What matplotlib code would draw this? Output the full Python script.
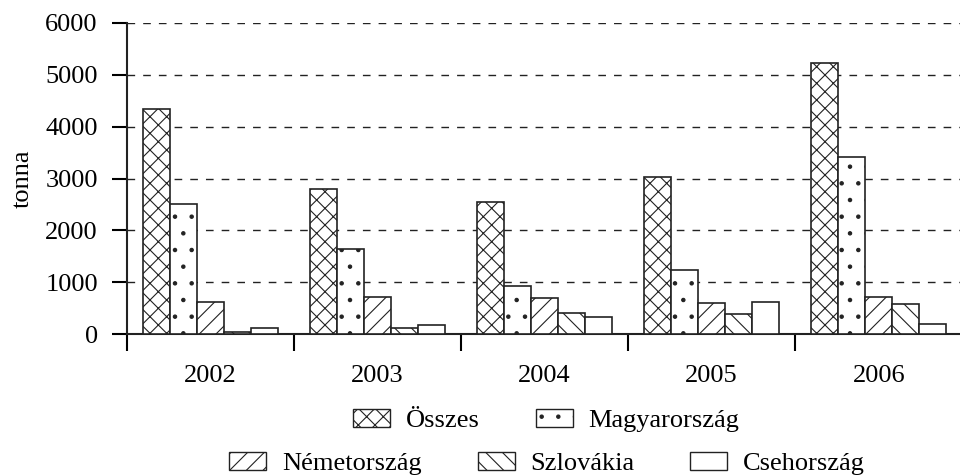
import matplotlib
matplotlib.use("Agg")
import matplotlib.pyplot as plt
import numpy as np
from matplotlib.patches import Patch

years = ["2002", "2003", "2004", "2005", "2006"]
osszes = [4330, 2790, 2555, 3035, 5220]
magyar = [2510, 1645, 930, 1240, 3420]
nemet = [625, 715, 690, 600, 715]
szlovak = [40, 115, 405, 385, 590]
cseh = [115, 170, 330, 630, 205]

series = [
    ("Összes", osszes, "xx"),
    ("Magyarország", magyar, "."),
    ("Németország", nemet, "//"),
    ("Szlovákia", szlovak, "\\\\"),
    ("Csehország", cseh, ""),
]

plt.rcParams['font.family'] = ['Liberation Serif', 'DejaVu Serif']
plt.rcParams['font.size'] = 19
plt.rcParams['hatch.linewidth'] = 0.8

fig = plt.figure(figsize=(9.6, 4.76), dpi=100)
ax = fig.add_axes([0.1323, 0.2977, 0.8700, 0.6546])

x = np.arange(len(years))
w = 0.162
handles = []
for i, (name, vals, hatch) in enumerate(series):
    off = (i - 2) * w
    ax.bar(x + off, vals, w, facecolor="white", edgecolor="#222222",
           hatch=hatch, linewidth=1.2, zorder=3)
    handles.append(Patch(facecolor="white", edgecolor="#222222",
                         hatch=hatch, linewidth=1.0, label=name))

ax.set_xlim(-0.5, 4.5)
ax.set_ylim(0, 6000)
ax.set_yticks(range(0, 6001, 1000))
for y in range(1000, 6001, 1000):
    ax.axhline(y, color="#222222", linewidth=1.0, dashes=(5.5, 5.8), zorder=1)

# ticks on group boundaries, labels centred on groups
ax.set_xticks(np.arange(-0.5, 4.6, 1.0))
ax.set_xticklabels([])
ax.set_xticks(x, minor=True)
ax.set_xticklabels(years, minor=True)
ax.tick_params(axis="x", which="major", direction="out", length=12, width=1.5)
ax.tick_params(axis="x", which="minor", length=0, pad=22)
ax.tick_params(axis="y", direction="out", length=11, width=1.5, pad=10)

for s in ["top", "right"]:
    ax.spines[s].set_visible(False)
for s in ["left", "bottom"]:
    ax.spines[s].set_linewidth(1.5)
    ax.spines[s].set_color("#222222")

ax.set_ylabel("tonna", labelpad=8)

leg_kw = dict(frameon=False, handlelength=1.4, handleheight=0.66,
              handletextpad=0.6, columnspacing=2.12, borderpad=0, fontsize=19)
fig.legend(handles=handles[:2], ncol=2, loc="center",
           bbox_to_anchor=(0.569, 0.117), **leg_kw)
fig.legend(handles=handles[2:], ncol=3, loc="center",
           bbox_to_anchor=(0.570, 0.026), **leg_kw)

fig.savefig("out.png", dpi=100)
